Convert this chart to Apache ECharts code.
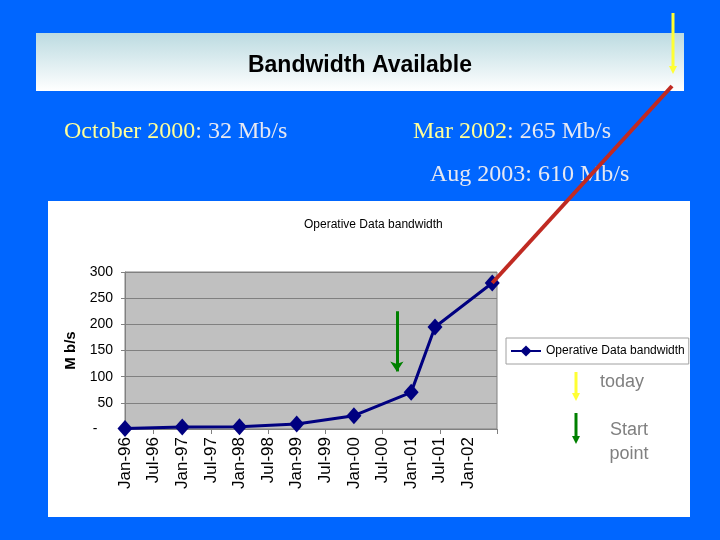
<!DOCTYPE html>
<html>
<head>
<meta charset="utf-8">
<title>Bandwidth Available</title>
<script src="https://cdn.jsdelivr.net/npm/echarts@6/dist/echarts.min.js"></script>
<style>
    html, body { margin: 0; padding: 0; background: #0066ff; }
    #main { width: 720px; height: 540px; }
</style>
</head>
<body>
<div id="main"></div>
<script>
/* ===================== 数据 ===================== */
// 数据点日期（年-月）与带宽（Mb/s）
var pointDates = ['1996-01', '1997-01', '1998-01', '1999-01', '2000-01', '2001-01', '2001-06', '2002-06'];
var bandwidth = [1, 4, 4.5, 9.5, 25.5, 70, 195, 279];

// x轴刻度标签（每6个月一个）
var xTickLabels = ['Jan-96', 'Jul-96', 'Jan-97', 'Jul-97', 'Jan-98', 'Jul-98', 'Jan-99',
    'Jul-99', 'Jan-00', 'Jul-00', 'Jan-01', 'Jul-01', 'Jan-02'];

// 起点 (October 2000) 箭头
var startDate = '2000-10';
var startArrow = [225, 110];

var seriesName = 'Operative Data bandwidth';
/* ===================== end ===================== */


/* ===================== 工具 ===================== */
var BASE_YEAR = 1996;

// '2000-10' -> 自 1996 年 1 月起的月数
function monthIndex(s) {
    var p = s.split('-');
    return (parseInt(p[0], 10) - BASE_YEAR) * 12 + parseInt(p[1], 10) - 1;
}

// 箭头：竖线 + 三角形
function arrow(x, y1, y2, color) {
    return {
        type: 'group',
        z: 50,
        children: [
            { type: 'line', shape: { x1: x, y1: y1, x2: x, y2: y2 - 6 }, style: { stroke: color, lineWidth: 3 } },
            { type: 'polygon', shape: { points: [[x - 4, y2 - 8], [x + 4, y2 - 8], [x, y2]] }, style: { fill: color } }
        ]
    };
}
/* ===================== end ===================== */


var lineData = pointDates.map(function (d, i) {
    return [monthIndex(d), bandwidth[i]];
});
var labelValues = xTickLabels.map(function (t, i) { return i * 6; });

var SANS = "'Liberation Sans', Arial, sans-serif";
var SERIF = "'Liberation Serif', 'Times New Roman', serif";
var PALE = '#e6e8f2';
var YELLOW = '#ffff99';

var chart = echarts.init(document.getElementById('main'));

var option = {
    backgroundColor: '#0066ff',
    animation: false,

    title: [{
        text: 'Bandwidth Available',
        left: 'center',
        top: 49,
        textStyle: { fontFamily: SANS, fontSize: 23, fontWeight: 'bold', color: '#000' }
    }, {
        text: seriesName,
        left: 299,
        top: 214,
        textStyle: { fontFamily: SANS, fontSize: 12, fontWeight: 'normal', color: '#000' }
    }],

    legend: {
        left: 506,
        top: 338,
        padding: [7, 4, 7, 4],
        itemWidth: 30,
        itemHeight: 14,
        itemGap: 4,
        backgroundColor: '#fff',
        borderColor: '#a0a0a0',
        borderWidth: 1,
        textStyle: { fontFamily: SANS, fontSize: 12, color: '#000' },
        data: [seriesName]
    },

    grid: {
        left: 125,
        right: 223,
        top: 272,
        bottom: 111,
        show: true,
        backgroundColor: '#c0c0c0',
        borderColor: '#808080',
        borderWidth: 1
    },

    xAxis: {
        type: 'value',
        min: 0,
        max: 78,
        axisLine: { lineStyle: { color: '#808080', width: 1 } },
        axisTick: {
            show: true,
            length: 5,
            customValues: [6, 18, 30, 42, 54, 66, 78],
            lineStyle: { color: '#808080' }
        },
        axisLabel: {
            customValues: labelValues,
            rotate: 90,
            margin: 8,
            fontFamily: SANS,
            fontSize: 17,
            color: '#000',
            formatter: function (v) { return xTickLabels[Math.round(v / 6)]; }
        },
        splitLine: { show: false }
    },

    yAxis: {
        type: 'value',
        min: 0,
        max: 300,
        interval: 50,
        name: 'M b/s',
        nameLocation: 'middle',
        nameGap: 46,
        nameTextStyle: { fontFamily: SANS, fontSize: 15, fontWeight: 'bold', color: '#000' },
        axisLine: { show: true, lineStyle: { color: '#808080' } },
        axisTick: { show: true, length: 4, lineStyle: { color: '#808080' } },
        axisLabel: {
            margin: 12,
            fontFamily: SANS,
            fontSize: 14,
            color: '#000',
            formatter: function (v) { return v === 0 ? '-    ' : v; }
        },
        splitLine: { lineStyle: { color: '#808080', width: 1 } }
    },

    series: [{
        name: seriesName,
        type: 'line',
        data: lineData,
        symbol: 'diamond',
        symbolSize: [15, 17],
        itemStyle: { color: '#000080' },
        lineStyle: { color: '#000080', width: 3 },
        markLine: {
            silent: true,
            symbol: ['none', 'arrow'],
            symbolSize: 10,
            label: { show: false },
            lineStyle: { color: '#008000', width: 3, type: 'solid' },
            data: [[
                { coord: [monthIndex(startDate), startArrow[0]] },
                { coord: [monthIndex(startDate), startArrow[1]] }
            ]]
        }
    }],

    graphic: [
        // 标题横幅
        {
            type: 'rect', z: -1,
            shape: { x: 36, y: 33, width: 648, height: 58 },
            style: {
                fill: new echarts.graphic.LinearGradient(0, 0, 0, 1, [
                    { offset: 0, color: '#bcdbe1' },
                    { offset: 1, color: '#ffffff' }
                ])
            }
        },
        // 图表白底
        {
            type: 'rect', z: -1,
            shape: { x: 48, y: 201, width: 642, height: 316 },
            style: { fill: '#fff' }
        },
        // 文字说明
        {
            type: 'text', x: 64, y: 132,
            style: {
                text: '{y|October 2000}{w|: 32 Mb/s}',
                verticalAlign: 'middle',
                rich: {
                    y: { fontFamily: SERIF, fontSize: 24, fill: YELLOW },
                    w: { fontFamily: SERIF, fontSize: 24, fill: PALE }
                }
            }
        },
        {
            type: 'text', x: 413, y: 132,
            style: {
                text: '{y|Mar 2002}{w|: 265 Mb/s}',
                verticalAlign: 'middle',
                rich: {
                    y: { fontFamily: SERIF, fontSize: 24, fill: YELLOW },
                    w: { fontFamily: SERIF, fontSize: 24, fill: PALE }
                }
            }
        },
        {
            type: 'text', x: 430, y: 175,
            style: {
                text: 'Aug 2003: 610 Mb/s',
                verticalAlign: 'middle',
                font: '24px ' + SERIF,
                fill: PALE
            }
        },
        // 图例注释
        arrow(673, 13, 74, '#ffff33'),
        arrow(576, 372, 401, '#ffff33'),
        arrow(576, 413, 444, '#008000'),
        {
            type: 'text', x: 600, y: 382,
            style: { text: 'today', verticalAlign: 'middle', font: '18px ' + SANS, fill: '#808080' }
        },
        {
            type: 'text', x: 629, y: 442,
            style: {
                text: 'Start\npoint', align: 'center', verticalAlign: 'middle',
                font: '18px ' + SANS, lineHeight: 24, fill: '#808080'
            }
        }
    ]
};

chart.setOption(option);

// 红线：从最后一个数据点到 "today"
var last = lineData[lineData.length - 1];
var p = chart.convertToPixel({ gridIndex: 0 }, last);
chart.setOption({
    graphic: [{
        id: 'todayLine',
        type: 'line',
        z: 60,
        shape: { x1: p[0], y1: p[1], x2: 672, y2: 86 },
        style: { stroke: '#c02a22', lineWidth: 4 }
    }]
});
</script>
</body>
</html>
